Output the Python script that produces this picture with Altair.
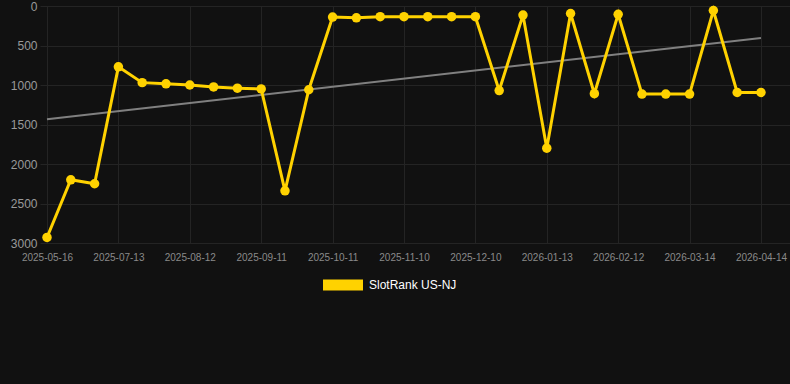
import altair as alt
import pandas as pd

dates = ["2025-05-16", "2025-06-04", "2025-06-24", "2025-07-13", "2025-07-23", "2025-08-02",
         "2025-08-12", "2025-08-22", "2025-09-01", "2025-09-11", "2025-09-21", "2025-10-01",
         "2025-10-11", "2025-10-21", "2025-10-31", "2025-11-10", "2025-11-20", "2025-11-30",
         "2025-12-10", "2025-12-21", "2026-01-02", "2026-01-13", "2026-01-23", "2026-02-02",
         "2026-02-12", "2026-02-22", "2026-03-04", "2026-03-14", "2026-03-24", "2026-04-04",
         "2026-04-14"]
ranks = [2930, 2200, 2250, 770, 970, 985, 1000, 1025, 1040, 1050, 2340, 1060,
         140, 150, 135, 135, 135, 135, 135, 1070, 115, 1800, 95, 1110, 105,
         1115, 1115, 1115, 57, 1095, 1095]
series_name = "SlotRank US-NJ"
y_ticks = [0, 500, 1000, 1500, 2000, 2500, 3000]
x_tick_idx = list(range(0, len(dates), 3))

df = pd.DataFrame({"idx": list(range(len(dates))), "date": dates, "rank": ranks,
                   "series": series_name})

GOLD = "#FFD200"
label_arr = "[" + ",".join("'" + d + "'" for d in dates) + "]"

x_enc = alt.X("idx:Q",
              scale=alt.Scale(domain=[-0.294, 31.22], nice=False, zero=False),
              axis=alt.Axis(values=x_tick_idx, labelExpr=label_arr + "[datum.value]",
                            title=None, ticks=False, domain=False, labelPadding=9,
                            labelFontSize=10, labelColor="#8a8a8a", gridColor="#242424",
                            labelFont="Liberation Sans"))
y_enc = alt.Y("rank:Q",
              scale=alt.Scale(domain=[0, 3000], reverse=True, nice=False),
              axis=alt.Axis(values=y_ticks, format="d", title=None, ticks=False, domain=False,
                            labelPadding=3, labelFontSize=12, labelColor="#9a9a9a",
                            gridColor="#242424", labelFont="Liberation Sans"))

color_scale = alt.Scale(domain=[series_name], range=[GOLD])
legend = alt.Legend(title=None, orient="none", legendX=283, legendY=259,
                    symbolType="M-1,-0.275L1,-0.275L1,0.275L-1,0.275Z",
                    symbolSize=1600, symbolStrokeWidth=0, symbolFillColor=GOLD,
                    symbolOpacity=1, labelColor="#ffffff",
                    labelFontSize=12, labelFont="Liberation Sans",
                    padding=0, labelOffset=6)

base = alt.Chart(df)

line = base.mark_line(strokeWidth=3, color=GOLD).encode(x=x_enc, y=y_enc)
pts = base.mark_point(filled=True, opacity=1).encode(
    x=x_enc, y=y_enc, color=alt.Color("series:N", scale=color_scale, legend=legend))
trend = base.transform_regression("idx", "rank").mark_line(
    color="#808080", strokeWidth=2).encode(x=x_enc, y=y_enc)

chart = alt.layer(trend, line, pts).properties(
    width=750, height=237,
    autosize=alt.AutoSizeParams(type="none"),
    padding={"left": 40, "top": 6, "right": 0, "bottom": 141},
    background="#111111",
).configure_view(stroke=None, fill="#111111").configure_point(size=90)

chart.save("out.html", embed_options={"renderer": "svg", "actions": False})
